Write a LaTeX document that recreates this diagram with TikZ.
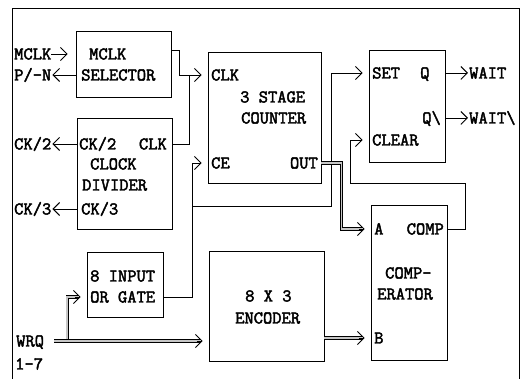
\documentclass[tikz,border=0pt]{standalone}
\usepackage{fontspec}
\setmonofont[AutoFakeBold=2.5]{Latin Modern Mono}
\usetikzlibrary{positioning,arrows.meta,calc,fit}

\begin{document}
\begin{tikzpicture}[
    x=1pt, y=-1pt,
    font=\fontsize{18}{20}\selectfont\ttfamily\bfseries,
    blk/.style={draw=black, line width=0.8pt, inner sep=0pt},
    lab/.style={inner sep=0pt, text height=11pt, text depth=0pt},
    wire/.style={line width=0.8pt},
    sig/.style={wire, -{Straight Barb[length=6.5pt,width=13pt,line width=0.9pt]}, shorten >=6pt},
    bus/.style={line width=0.9pt, double=gray!45, double distance=1.5pt},
    chev/.style={line width=0.8pt, -{Straight Barb[length=6.5pt,width=13pt,line width=0.9pt]}}
]
\useasboundingbox (0,0) rectangle (523,379);

% ---- frame ----
\draw[wire] (12,379) -- (12,8) -- (519,8) -- (519,379);

% ---- blocks ----
\node[blk, fit={(76,31) (171,97)}]   (sel) {};
\node[blk, fit={(77,118) (172,229)}] (div) {};
\node[blk, fit={(208,52) (321,183)}] (cnt) {};
\node[blk, fit={(369,50) (445,162)}] (ff)  {};
\node[blk, fit={(87,252) (163,317)}] (org) {};
\node[blk, fit={(209,251) (324,361)}] (enc) {};
\node[blk, fit={(371,205) (447,360)}] (cmp) {};

% ---- block texts ----
\node[lab, anchor=west] (selt1) at (89,54) {MCLK};
\node[lab, anchor=west] (selt2) at (81,75) {SELECTOR};

\node[lab, anchor=west] (divck2) at (79,144) {CK/2};
\node[lab, anchor=east] (divclk) at (167,144) {CLK};
\node[lab, anchor=west] (divt1)  at (90,164) {CLOCK};
\node[lab, anchor=west] (divt2)  at (82,185) {DIVIDER};
\node[lab, anchor=west] (divck3) at (81,209) {CK/3};

\node[lab, anchor=west] (cntclk) at (211,75) {CLK};
\node[lab, anchor=west] (cntt1)  at (240,97) {3 STAGE};
\node[lab, anchor=west] (cntt2)  at (241,118) {COUNTER};
\node[lab, anchor=west] (cntce)  at (211,163) {CE};
\node[lab, anchor=east] (cntout) at (318,163) {OUT};

\node[lab, anchor=west] (ffset) at (372,73) {SET};
\node[lab, anchor=west] (ffq)   at (420,73) {Q};
\node[lab, anchor=east] (ffqn)  at (441,118) {Q\textbackslash};
\node[lab, anchor=west] (ffclr) at (372,140) {CLEAR};

\node[lab, anchor=west] (orgt1) at (90,276) {8 INPUT};
\node[lab, anchor=west] (orgt2) at (90,297) {OR GATE};

\node[lab, anchor=west] (enct1) at (245,296) {8 X 3};
\node[lab, anchor=west] (enct2) at (235,318) {ENCODER};

\node[lab, anchor=west] (cmpa)    at (374,229) {A};
\node[lab, anchor=east] (cmpcomp) at (444,229) {COMP};
\node[lab, anchor=west] (cmpt1)   at (385,273) {COMP-};
\node[lab, anchor=west] (cmpt2)   at (377,294) {ERATOR};
\node[lab, anchor=west] (cmpb)    at (374,338) {B};

% ---- pins outside ----
\node[lab, anchor=west] (mclk) at (14,54) {MCLK};
\node[lab, anchor=west] (pn)   at (14,75) {P/-N};
\node[lab, anchor=west] (ck2)  at (14,144) {CK/2};
\node[lab, anchor=west] (ck3)  at (14,209) {CK/3};
\node[lab, anchor=west] (wrq)  at (16,341) {WRQ};
\node[lab, anchor=west] (wrqn) at (15,364) {1-7};
\node[lab, anchor=west] (wait)  at (469,73) {WAIT};
\node[lab, anchor=west] (waitn) at (469,118) {WAIT\textbackslash};

\draw[sig, shorten >=8pt] (mclk.east) -- (sel.west |- mclk);
\draw[sig, shorten >=1pt] (sel.west |- pn) -- (pn.east);
\draw[sig, shorten >=1pt] (div.west |- ck2) -- (ck2.east);
\draw[sig, shorten >=1pt] (div.west |- ck3) -- (ck3.east);
\draw[sig, shorten >=1pt] (ff.east |- ffq) -- (wait.west);
\draw[sig, shorten >=1pt] (ff.east |- ffqn) -- (waitn.west);

% ---- clock into counter ----
\draw[sig] ([yshift=-20pt]sel.north east) -- ++(8,0) |- (cnt.west |- cntclk);
\draw[wire] (div.east |- divclk) -- ++(17,0) coordinate (clkj) -- (clkj |- cntclk);

% ---- enable / set ----
\draw[sig] (org.east |- orgt2) -- ++(29,0) coordinate (cej) |- (cnt.west |- cntce);
\draw[sig] (cej |- 0,206) -| ([xshift=-37pt]ff.west |- ffset) -- (ff.west |- ffset);

% ---- compare / clear ----
\draw[sig] (cmp.east |- cmpcomp) -- ++(18,0) -- ++(0,-46) -| ([xshift=-18pt]ff.west |- ffclr) -- (ff.west |- ffclr);

% ---- buses ----
\draw[bus] ([xshift=23pt]wrq.east) |- ([xshift=-9pt]org.west |- orgt2);
\draw[bus] ([xshift=10pt]wrq.east) -- ([xshift=-9pt]enc.west |- wrq);
\draw[bus] (enc.east |- cmpb) -- ([xshift=-9pt]cmp.west |- cmpb);
\draw[bus] (cnt.east |- cntout) -| ([xshift=-29pt]cmp.west |- cmpa) -- ([xshift=-9pt]cmp.west |- cmpa);

\draw[chev] ([xshift=-12pt]org.west |- orgt2) -- ([xshift=-6pt]org.west |- orgt2);
\draw[chev] ([xshift=-12pt]enc.west |- wrq) -- ([xshift=-6pt]enc.west |- wrq);
\draw[chev] ([xshift=-12pt]cmp.west |- cmpb) -- ([xshift=-6pt]cmp.west |- cmpb);
\draw[chev] ([xshift=-12pt]cmp.west |- cmpa) -- ([xshift=-6pt]cmp.west |- cmpa);

\end{tikzpicture}
\end{document}
